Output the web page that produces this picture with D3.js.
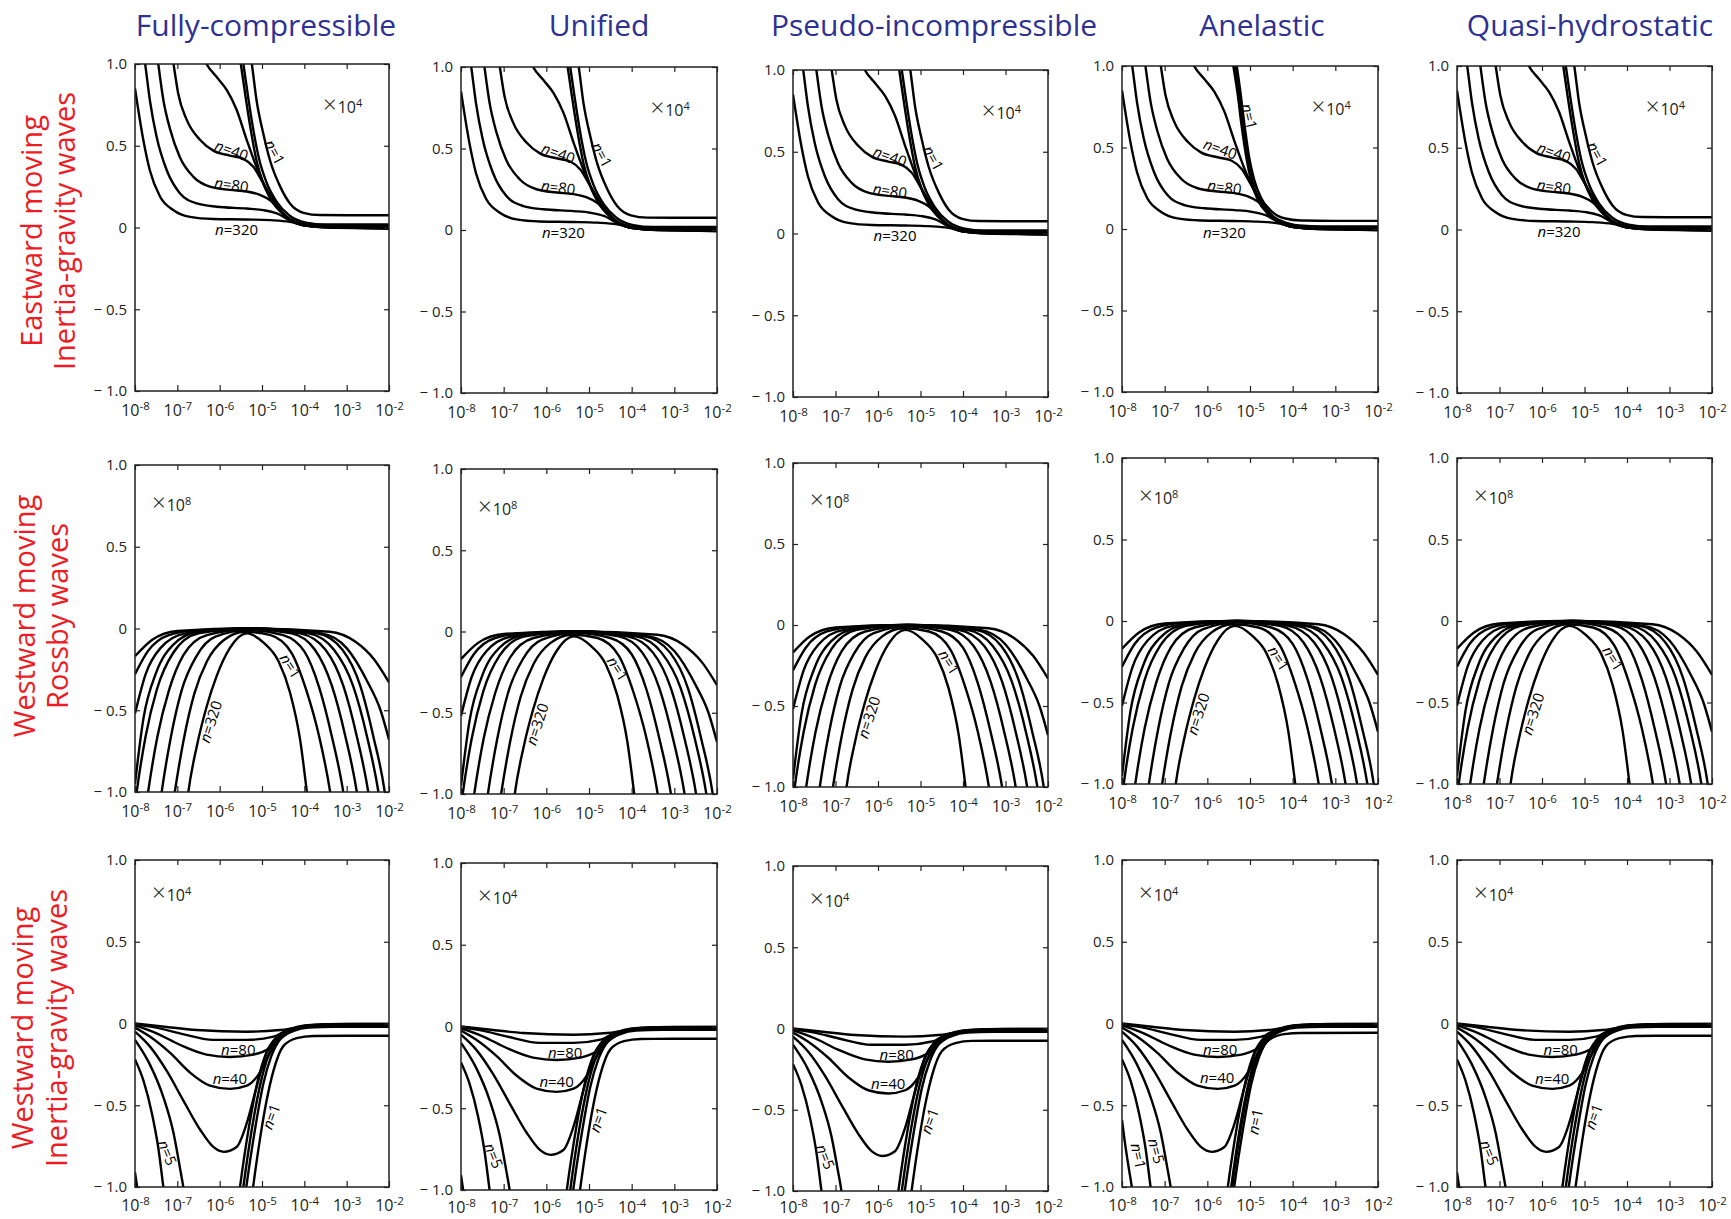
<!DOCTYPE html>
<html>
<head>
<meta charset="utf-8">
<script src="https://cdn.jsdelivr.net/npm/d3@7"></script>
<style>
body { margin: 0; background: #fff; }
svg text { font-family: "Open Sans", sans-serif; }
</style>
</head>
<body>
<script>
const svgWidth = 1731; //Width of SVG.
const svgHeight = 1219; //Height of SVG.

//Panel titles, row labels, ticks.
const columnTitles = ["Fully-compressible", "Unified", "Pseudo-incompressible", "Anelastic", "Quasi-hydrostatic"];
const rowLabels = [["Eastward moving", "Inertia-gravity waves"], ["Westward moving", "Rossby waves"], ["Westward moving", "Inertia-gravity waves"]];
const xTickExps = [-8, -7, -6, -5, -4, -3, -2];
const yTicks = [-1, -0.5, 0, 0.5, 1];
const yTickLabels = ["\u2212 1.0", "\u2212 0.5", "0", "0.5", "1.0"];
const scaleExps = ["4", "8", "4"]; //The "x 10^n" factor of each row.
const scaleNotePos = [[-3.56, 0.70], [-7.6, 0.72], [-7.6, 0.75]]; //[log10 x, y] of that note.

//Eastward inertia-gravity waves: [log10 x, value].
const eig_n320 = [[-8, 0.85], [-7.8, 0.53], [-7.65, 0.35], [-7.41, 0.19], [-7.09, 0.106], [-6.7, 0.065], [-6.15, 0.052], [-5.36, 0.049], [-4.81, 0.045], [-4.34, 0.035], [-4.02, 0.014], [-3.4, 0.004], [-2, 0.003]];
const eig_n160 = [[-7.85, 1.15], [-7.76, 1.0], [-7.65, 0.78], [-7.49, 0.555], [-7.25, 0.35], [-6.94, 0.21], [-6.54, 0.147], [-6.07, 0.127], [-5.36, 0.116], [-4.97, 0.106], [-4.65, 0.086], [-4.34, 0.045], [-4.02, 0.014], [-3.4, 0.002], [-2, 0]];
const eig_n80 = [[-7.5, 1.1], [-7.45, 1.0], [-7.33, 0.78], [-7.17, 0.6], [-6.94, 0.43], [-6.62, 0.31], [-6.23, 0.25], [-5.76, 0.23], [-5.36, 0.22], [-5.05, 0.2], [-4.81, 0.167], [-4.57, 0.106], [-4.34, 0.049], [-4.02, 0.014], [-3.4, 0], [-2, -0.003]];
const eig_n40 = [[-7.15, 1.1], [-7.09, 1.0], [-6.98, 0.82], [-6.78, 0.66], [-6.46, 0.535], [-6.15, 0.47], [-5.76, 0.44], [-5.44, 0.42], [-5.2, 0.37], [-4.97, 0.27], [-4.73, 0.167], [-4.5, 0.086], [-4.26, 0.035], [-3.94, 0.01], [-3.4, 0], [-2, -0.005]];
const eig_n20 = [[-6.4, 1.05], [-6.31, 1.0], [-6.07, 0.92], [-5.83, 0.84], [-5.6, 0.72], [-5.36, 0.535], [-5.13, 0.37], [-4.89, 0.23], [-4.65, 0.127], [-4.42, 0.065], [-4.1, 0.024], [-3.7, 0.008], [-3, 0], [-2, -0.008]];
const eig_n10 = [[-5.56, 1.1], [-5.5, 1.0], [-5.4, 0.82], [-5.28, 0.62], [-5.13, 0.41], [-4.97, 0.27], [-4.73, 0.147], [-4.42, 0.065], [-4.02, 0.022], [-3.5, 0.01], [-2, 0.01]];
const eig_n5 = [[-5.5, 1.1], [-5.44, 1.0], [-5.34, 0.82], [-5.22, 0.62], [-5.07, 0.42], [-4.9, 0.28], [-4.66, 0.16], [-4.36, 0.075], [-3.96, 0.03], [-3.5, 0.018], [-2, 0.018]];
const eig_n1 = [[-5.3, 1.1], [-5.24, 1.0], [-5.13, 0.78], [-4.97, 0.575], [-4.81, 0.41], [-4.57, 0.25], [-4.34, 0.147], [-4.02, 0.09], [-3.63, 0.076], [-3, 0.075], [-2, 0.075]];
//Anelastic column, tighter n=1 bundle.
const eig_n10_an = [[-5.45, 1.1], [-5.39, 1.0], [-5.29, 0.83], [-5.2, 0.64], [-5.08, 0.43], [-4.97, 0.29], [-4.81, 0.175], [-4.57, 0.09], [-4.26, 0.035], [-3.9, 0.012], [-3.3, 0.004], [-2, 0.003]];
const eig_n5_an = [[-5.41, 1.1], [-5.35, 1.0], [-5.26, 0.83], [-5.17, 0.635], [-5.05, 0.43], [-4.94, 0.29], [-4.78, 0.178], [-4.54, 0.095], [-4.23, 0.045], [-3.85, 0.022], [-3.3, 0.016], [-2, 0.016]];
const eig_n1_an = [[-5.37, 1.1], [-5.31, 1.0], [-5.22, 0.83], [-5.13, 0.64], [-5.02, 0.44], [-4.9, 0.3], [-4.74, 0.19], [-4.5, 0.11], [-4.2, 0.066], [-3.8, 0.052], [-3, 0.05], [-2, 0.05]];

//Westward Rossby waves.
const ros_1 = [[-6.85, -1.25], [-6.74, -1.0], [-6.54, -0.72], [-6.31, -0.48], [-6.07, -0.29], [-5.76, -0.12], [-5.36, -0.03], [-4.95, -0.09], [-4.61, -0.2], [-4.34, -0.39], [-4.1, -0.68], [-3.94, -1.0], [-3.85, -1.2]];
const ros_2 = [[-7.2, -1.25], [-7.06, -1.0], [-6.85, -0.68], [-6.6, -0.4], [-6.3, -0.2], [-5.9, -0.07], [-5.4, -0.02], [-4.8, -0.04], [-4.3, -0.15], [-3.95, -0.38], [-3.65, -0.66], [-3.39, -1.0], [-3.28, -1.2]];
const ros_3 = [[-7.5, -1.25], [-7.37, -1.0], [-7.15, -0.66], [-6.9, -0.38], [-6.55, -0.17], [-6.1, -0.05], [-5.3, -0.01], [-4.5, -0.04], [-4.0, -0.14], [-3.65, -0.36], [-3.35, -0.66], [-3.08, -1.0], [-2.97, -1.2]];
const ros_4 = [[-7.82, -1.25], [-7.69, -1.0], [-7.47, -0.66], [-7.2, -0.38], [-6.85, -0.16], [-6.3, -0.04], [-5.3, -0.005], [-4.3, -0.03], [-3.75, -0.13], [-3.35, -0.35], [-3.03, -0.66], [-2.76, -1.0], [-2.65, -1.2]];
const ros_5 = [[-8.08, -1.25], [-7.96, -1.0], [-7.75, -0.66], [-7.48, -0.37], [-7.1, -0.15], [-6.5, -0.03], [-5.3, 0], [-4.1, -0.03], [-3.5, -0.13], [-3.08, -0.35], [-2.76, -0.66], [-2.49, -1.0], [-2.38, -1.2]];
const ros_6 = [[-8, -0.95], [-7.8, -0.55], [-7.5, -0.27], [-7.1, -0.1], [-6.5, -0.02], [-5.3, 0], [-3.9, -0.03], [-3.3, -0.13], [-2.85, -0.35], [-2.52, -0.66], [-2.25, -1.0], [-2.14, -1.2]];
const ros_7 = [[-8, -0.52], [-7.75, -0.28], [-7.4, -0.12], [-6.8, -0.03], [-5.3, 0], [-3.7, -0.03], [-3.1, -0.13], [-2.68, -0.35], [-2.37, -0.66], [-2.1, -1.0], [-2.0, -1.2]];
const ros_8 = [[-8, -0.28], [-7.7, -0.14], [-7.2, -0.04], [-6.5, -0.01], [-5.3, 0], [-3.6, -0.03], [-3.0, -0.12], [-2.5, -0.33], [-2.2, -0.5], [-2, -0.68]];
const ros_9 = [[-8, -0.17], [-7.6, -0.07], [-7.0, -0.015], [-5.3, 0], [-3.4, -0.02], [-2.8, -0.08], [-2.35, -0.19], [-2, -0.33]];

//Westward inertia-gravity waves.
const wig_a = [[-8, 0], [-7.3, -0.02], [-6.54, -0.04], [-5.36, -0.05], [-4.57, -0.04], [-4.18, -0.025], [-3.7, -0.01], [-3, -0.003], [-2, -0.002]];
const wig_b = [[-8, -0.005], [-7.5, -0.025], [-6.94, -0.06], [-6.15, -0.1], [-5.36, -0.1], [-4.73, -0.08], [-4.34, -0.037], [-4.02, -0.016], [-3.5, -0.006], [-2, -0.005]];
const wig_n80 = [[-8, -0.01], [-7.49, -0.06], [-6.94, -0.13], [-6.31, -0.19], [-5.76, -0.205], [-5.2, -0.19], [-4.81, -0.15], [-4.5, -0.08], [-4.18, -0.03], [-3.87, -0.012], [-3, -0.008], [-2, -0.008]];
const wig_n40 = [[-8, -0.025], [-7.65, -0.08], [-7.17, -0.18], [-6.7, -0.3], [-6.23, -0.38], [-5.76, -0.4], [-5.36, -0.38], [-5.05, -0.3], [-4.81, -0.18], [-4.5, -0.07], [-4.18, -0.025], [-3.7, -0.012], [-2, -0.012]];
const wig_n20 = [[-8, -0.05], [-7.65, -0.14], [-7.25, -0.29], [-6.86, -0.47], [-6.46, -0.65], [-6.15, -0.755], [-5.9, -0.785], [-5.6, -0.755], [-5.36, -0.61], [-5.13, -0.39], [-4.89, -0.18], [-4.57, -0.07], [-4.18, -0.025], [-3.7, -0.015], [-2, -0.015]];
const wig_n10 = [[-8, -0.1], [-7.65, -0.25], [-7.33, -0.45], [-7.09, -0.67], [-6.94, -0.88], [-6.86, -1.0], [-6.8, -1.12]];
const wig_n5 = [[-8, -0.22], [-7.8, -0.35], [-7.6, -0.55], [-7.45, -0.76], [-7.33, -1.0], [-7.27, -1.12]];
const wig_n1 = [[-8, -0.91], [-7.95, -1.0], [-7.9, -1.1]];
const wig_n10R = [[-5.58, -1.12], [-5.52, -1.0], [-5.3, -0.62], [-5.1, -0.35], [-4.9, -0.18], [-4.65, -0.08], [-4.34, -0.035], [-4.0, -0.012], [-3.5, -0.004], [-2, -0.002]];
const wig_n5R = [[-5.5, -1.12], [-5.44, -1.0], [-5.23, -0.63], [-5.03, -0.36], [-4.84, -0.19], [-4.6, -0.085], [-4.3, -0.04], [-3.95, -0.018], [-3.4, -0.012], [-2, -0.012]];
const wig_n2R = [[-5.43, -1.12], [-5.37, -1.0], [-5.16, -0.64], [-4.97, -0.37], [-4.78, -0.2], [-4.55, -0.09], [-4.25, -0.045], [-3.9, -0.025], [-3.3, -0.02], [-2, -0.02]];
const wig_n1R = [[-5.27, -1.12], [-5.21, -1.0], [-5.05, -0.71], [-4.89, -0.47], [-4.73, -0.29], [-4.5, -0.14], [-4.18, -0.09], [-3.79, -0.076], [-3, -0.075], [-2, -0.075]];
//Anelastic column.
const wig_n1_an = [[-8, -0.59], [-7.92, -0.75], [-7.85, -0.87], [-7.77, -1.0], [-7.72, -1.1]];
const wig_n1R_an = [[-5.48, -1.12], [-5.42, -1.0], [-5.2, -0.62], [-5.0, -0.35], [-4.8, -0.19], [-4.55, -0.1], [-4.2, -0.065], [-3.8, -0.058], [-2, -0.057]];

//Curve labels: [number, log10 x, y, angle].
const eigLabels = [["40", -5.72, 0.47, 20], ["80", -5.72, 0.26, 8], ["320", -5.6, -0.015, 0], ["1", -4.7, 0.46, 62]];
const eigLabels_an = [["40", -5.7, 0.49, 20], ["80", -5.6, 0.255, 8], ["320", -5.6, -0.02, 0], ["1", -5.02, 0.69, 76]];
const rosLabels = [["1", -4.33, -0.23, 58], ["320", -6.21, -0.57, -72]];
const wigLabels = [["80", -5.56, -0.16, 0], ["40", -5.76, -0.34, 0], ["1", -4.78, -0.57, -70], ["5", -7.24, -0.79, 68]];
const wigLabels_an = [["80", -5.7, -0.16, 0], ["40", -5.77, -0.33, 0], ["1", -4.87, -0.6, -78], ["5", -7.2, -0.78, 75], ["1", -7.62, -0.81, 78]];

//Layout of the 3 x 5 panels.
const colLeft = [135, 461, 793, 1122, 1457];
const colRight = [389, 717, 1048, 1378, 1712];
const rowTop = [[64, 67, 70, 66, 66], [465, 469, 463, 458, 458], [860, 863, 866, 860, 860]];
const rowBottom = [[391, 393, 397, 392, 393], [792, 794, 787, 784, 784], [1187, 1190, 1191, 1187, 1187]];
const titleX = [266, 599, 934, 1262, 1590];
const rowLabelX = [[42, 75], [35, 68], [33, 67]];
const rowLabelY = [231, 616, 1028];

const ink = "#231f20";

function panelCurves(r, c) {
	if (r === 0) {
		if (c === 3) return [eig_n320, eig_n160, eig_n80, eig_n40, eig_n20, eig_n10_an, eig_n5_an, eig_n1_an];
		return [eig_n320, eig_n160, eig_n80, eig_n40, eig_n20, eig_n10, eig_n5, eig_n1];
	}
	if (r === 1) return [ros_1, ros_2, ros_3, ros_4, ros_5, ros_6, ros_7, ros_8, ros_9];
	let base = [wig_a, wig_b, wig_n80, wig_n40, wig_n20, wig_n10, wig_n5, wig_n10R, wig_n5R, wig_n2R];
	if (c === 3) return base.concat([wig_n1_an, wig_n1R_an]);
	if (c === 2) return base.concat([wig_n1R]);
	return base.concat([wig_n1, wig_n1R]);
}

function panelLabels(r, c) {
	if (r === 0) return c === 3 ? eigLabels_an : eigLabels;
	if (r === 1) return rosLabels;
	return c === 3 ? wigLabels_an : wigLabels;
}

let svg = d3.select("body")
	.append("svg")
	.attr("width", svgWidth)
	.attr("height", svgHeight);

//Column titles.
columnTitles.forEach(function(t, c) {
	svg.append("text")
		.attr("x", titleX[c])
		.attr("y", 36)
		.attr("text-anchor", "middle")
		.style("font-size", "30px")
		.style("fill", "#2e3192")
		.text(t);
});

//Row labels, rotated.
rowLabels.forEach(function(lines, r) {
	lines.forEach(function(line, k) {
		svg.append("text")
			.attr("transform", "translate(" + rowLabelX[r][k] + "," + rowLabelY[r] + ") rotate(-90)")
			.attr("text-anchor", "middle")
			.style("font-size", "29px")
			.style("fill", "#ed1c24")
			.text(line);
	});
});

const xTickVals = xTickExps.map(e => Math.pow(10, e));

for (let r = 0; r < 3; r++) {
	for (let c = 0; c < 5; c++) {
		let L = colLeft[c], R = colRight[c], T = rowTop[r][c], B = rowBottom[r][c];

		let x = d3.scaleLog().domain([1e-8, 1e-2]).range([L, R]);
		let y = d3.scaleLinear().domain([-1, 1]).range([B, T]);

		let g = svg.append("g");
		let clipId = "clip-" + r + "-" + c;
		g.append("clipPath").attr("id", clipId)
			.append("rect")
			.attr("x", L).attr("y", T)
			.attr("width", R - L).attr("height", B - T);

		let line = d3.line()
			.x(d => x(Math.pow(10, d[0])))
			.y(d => y(d[1]))
			.curve(d3.curveMonotoneX);

		g.append("g")
			.attr("clip-path", "url(#" + clipId + ")")
			.selectAll("path")
			.data(panelCurves(r, c))
			.enter()
			.append("path")
			.attr("d", line)
			.attr("fill", "none")
			.attr("stroke", "#000")
			.attr("stroke-width", 2.4);

		//Axes with inward ticks on all four sides.
		let styleAxis = function(a) {
			a.select(".domain").remove();
			a.selectAll(".tick line").attr("stroke", ink).attr("stroke-width", 1.2);
			a.selectAll(".tick text").style("font-size", "15px").attr("fill", ink).style("font-family", "Open Sans");
		};

		let xBottom = g.append("g")
			.attr("transform", "translate(0," + B + ")")
			.call(d3.axisBottom(x).tickValues(xTickVals).tickSizeInner(-6).tickSizeOuter(0).tickFormat(() => ""))
			.call(styleAxis);

		g.append("g")
			.attr("transform", "translate(0," + T + ")")
			.call(d3.axisTop(x).tickValues(xTickVals).tickSizeInner(-5).tickSizeOuter(0).tickFormat(() => ""))
			.call(styleAxis);

		g.append("g")
			.attr("transform", "translate(" + L + ",0)")
			.call(d3.axisLeft(y).tickValues(yTicks).tickSizeInner(-5).tickSizeOuter(0).tickPadding(8)
				.tickFormat(d => yTickLabels[yTicks.indexOf(d)]))
			.call(styleAxis);

		g.append("g")
			.attr("transform", "translate(" + R + ",0)")
			.call(d3.axisRight(y).tickValues(yTicks).tickSizeInner(-5).tickSizeOuter(0).tickFormat(() => ""))
			.call(styleAxis);

		//Power-of-ten tick labels (kept inside the page at the bottom row).
		let labelDy = Math.min(r === 2 ? 24 : 25, 1213 - B);
		xBottom.selectAll(".tick").each(function(d, i) {
			let t = d3.select(this).append("text")
				.attr("y", labelDy)
				.attr("text-anchor", "middle")
				.attr("fill", ink)
				.style("font-size", "16px");
			t.append("tspan").text("10");
			t.append("tspan").attr("dy", -6).style("font-size", "11.5px").text(String(xTickExps[i]));
		});

		//Frame.
		g.append("rect")
			.attr("x", L).attr("y", T)
			.attr("width", R - L).attr("height", B - T)
			.attr("fill", "none")
			.attr("stroke", ink)
			.attr("stroke-width", 1.5);

		//Scale factor note.
		let note = g.append("text")
			.attr("x", x(Math.pow(10, scaleNotePos[r][0])))
			.attr("y", y(scaleNotePos[r][1]))
			.attr("fill", ink)
			.style("font-size", "16px");
		note.append("tspan").style("font-size", "24px").style("font-weight", "300").text("\u00d7");
		note.append("tspan").attr("dx", 1).text("10");
		note.append("tspan").attr("dy", -6).style("font-size", "11px").text(scaleExps[r]);

		//Curve labels.
		panelLabels(r, c).forEach(function(lb) {
			let t = g.append("text")
				.attr("transform", "translate(" + x(Math.pow(10, lb[1])) + "," + y(lb[2]) + ") rotate(" + lb[3] + ")")
				.attr("text-anchor", "middle")
				.attr("dy", "0.35em")
				.attr("fill", "#000")
				.style("font-size", "15px");
			t.append("tspan").style("font-style", "italic").text("n");
			t.append("tspan").text("=" + lb[0]);
		});
	}
}
</script>
</body>
</html>
